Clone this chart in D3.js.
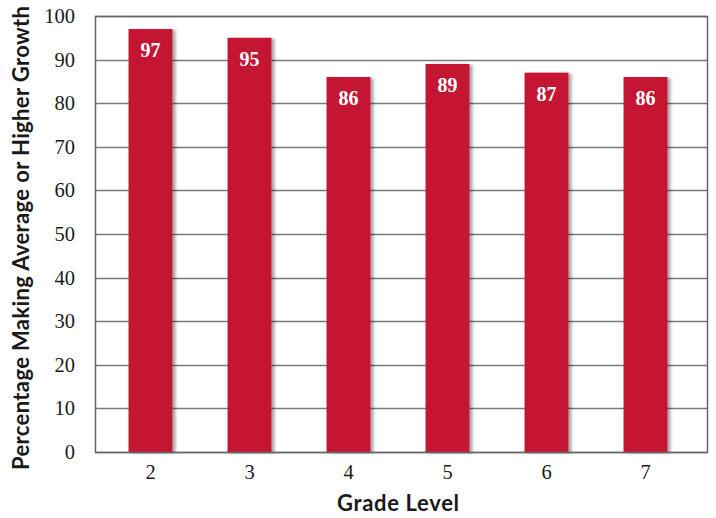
<!DOCTYPE html>
<html>
<head>
<meta charset="utf-8">
<script src="https://cdn.jsdelivr.net/npm/d3@7"></script>
<style>
  body { margin: 0; background: #fff; }
</style>
</head>
<body>
<script>
var grades = ["2", "3", "4", "5", "6", "7"];
var growth = [97, 95, 86, 89, 87, 86];
var yTicks = [0, 10, 20, 30, 40, 50, 60, 70, 80, 90, 100];

var w = 716, h = 518;
var plotLeft = 95, plotRight = 707, plotTop = 16, plotBottom = 452;

var svg = d3.select("body").append("svg")
    .attr("width", w)
    .attr("height", h);

var defs = svg.append("defs");
var f = defs.append("filter").attr("id", "shadow")
    .attr("x", "-20%").attr("y", "-5%").attr("width", "150%").attr("height", "110%");
f.append("feDropShadow").attr("dx", 3).attr("dy", 1).attr("stdDeviation", 1.5)
    .attr("flood-color", "#000").attr("flood-opacity", 0.35);

var x = d3.scaleBand()
    .domain(grades)
    .range([101, 695])
    .paddingInner(0.556)
    .paddingOuter(0.278);

var y = d3.scaleLinear()
    .domain([0, 100])
    .range([plotBottom, plotTop]);

// gridlines
svg.append("g").selectAll("line")
    .data(yTicks)
    .enter().append("line")
    .attr("x1", plotLeft).attr("x2", plotRight)
    .attr("y1", function(d) { return Math.round(y(d)) + 0.5; })
    .attr("y2", function(d) { return Math.round(y(d)) + 0.5; })
    .attr("stroke", "#7a7a7a")
    .attr("stroke-width", 1.3);

// bars
svg.append("g").selectAll("rect")
    .data(growth)
    .enter().append("rect")
    .attr("x", function(d, i) { return x(grades[i]); })
    .attr("y", function(d) { return y(d); })
    .attr("width", x.bandwidth())
    .attr("height", function(d) { return y(0) - y(d); })
    .attr("fill", "#c41230")
    .attr("filter", "url(#shadow)");

// value labels
svg.append("g").selectAll("text")
    .data(growth)
    .enter().append("text")
    .attr("x", function(d, i) { return x(grades[i]) + x.bandwidth() / 2; })
    .attr("y", function(d) { return y(d) + 28; })
    .attr("text-anchor", "middle")
    .attr("font-family", "'Liberation Serif', 'DejaVu Serif', serif")
    .attr("font-weight", "bold")
    .attr("font-size", 20)
    .attr("fill", "#fff")
    .text(function(d) { return d; });

// plot frame
svg.append("rect")
    .attr("x", plotLeft + 0.5).attr("y", Math.round(plotTop) + 0.5)
    .attr("width", plotRight - plotLeft).attr("height", plotBottom - plotTop)
    .attr("fill", "none")
    .attr("stroke", "#666")
    .attr("stroke-width", 1.5);

// y axis
var yAxis = svg.append("g")
    .attr("transform", "translate(" + plotLeft + ",0)")
    .call(d3.axisLeft(y).tickValues(yTicks).tickSize(0).tickPadding(20));
yAxis.select(".domain").remove();
yAxis.selectAll("text")
    .attr("font-family", "'Liberation Serif', 'DejaVu Serif', serif")
    .attr("font-size", 20.5)
    .attr("fill", "#1a1a1a");

// x axis
var xAxis = svg.append("g")
    .attr("transform", "translate(0," + plotBottom + ")")
    .call(d3.axisBottom(x).tickSize(0).tickPadding(12));
xAxis.select(".domain").remove();
xAxis.selectAll("text")
    .attr("font-family", "'Liberation Serif', 'DejaVu Serif', serif")
    .attr("font-size", 20.5)
    .attr("fill", "#1a1a1a");

// axis titles
svg.append("text")
    .attr("x", 398).attr("y", 511)
    .attr("text-anchor", "middle")
    .attr("font-family", "Lato, 'Open Sans', sans-serif")
    .attr("font-weight", "bold")
    .attr("font-size", 22)
    .attr("textLength", 122)
    .attr("fill", "#1a1a1a")
    .text("Grade Level");

svg.append("text")
    .attr("transform", "translate(29,238) rotate(-90)")
    .attr("text-anchor", "middle")
    .attr("font-family", "Lato, 'Open Sans', sans-serif")
    .attr("font-weight", "bold")
    .attr("font-size", 22)
    .attr("textLength", 464)
    .attr("fill", "#1a1a1a")
    .text("Percentage Making Average or Higher Growth");
</script>
</body>
</html>
